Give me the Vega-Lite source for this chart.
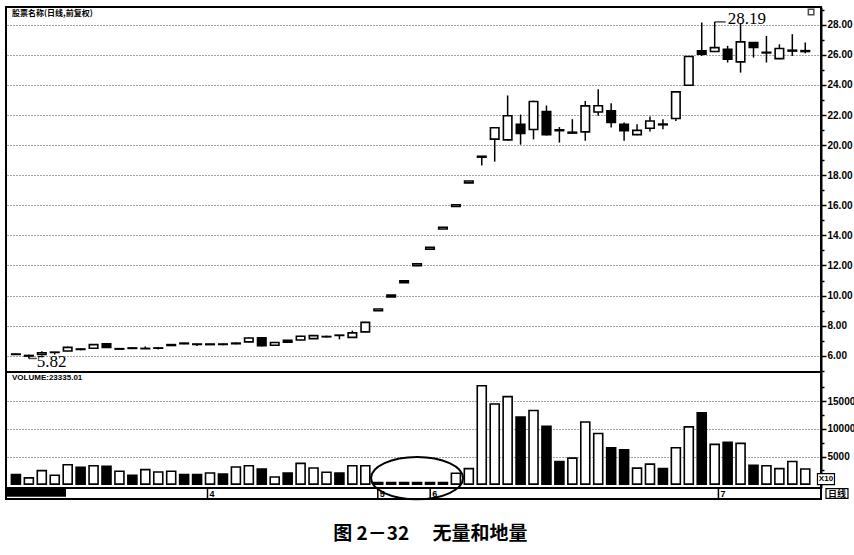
{
  "$schema": "https://vega.github.io/schema/vega-lite/v6.json",
  "background": "white",
  "padding": {"left": 5, "top": 3, "right": 0, "bottom": 0},
  "bounds": "flush",
  "config": {
    "view": {"stroke": "black", "strokeWidth": 2},
    "concat": {"spacing": 0},
    "font": "Liberation Sans",
    "axis": {"labelOverlap": false}
  },
  "title": {
    "text": "图 2－32　 无量和地量",
    "orient": "bottom",
    "anchor": "middle",
    "offset": 21,
    "fontSize": 19,
    "font": "Noto Sans CJK SC",
    "fontWeight": "bold",
    "color": "black"
  },
  "datasets": {
    "candles": [
      {"i": 0, "o": 6.12, "h": 6.15, "l": 6.05, "c": 6.08, "v": 1730, "d": "down"},
      {"i": 1, "o": 5.98, "h": 6.06, "l": 5.82, "c": 6.02, "v": 1130, "d": "up"},
      {"i": 2, "o": 6.08, "h": 6.3, "l": 6.02, "c": 6.2, "v": 2440, "d": "up"},
      {"i": 3, "o": 6.22, "h": 6.26, "l": 6.08, "c": 6.24, "v": 1600, "d": "up"},
      {"i": 4, "o": 6.32, "h": 6.6, "l": 6.3, "c": 6.56, "v": 3510, "d": "up"},
      {"i": 5, "o": 6.45, "h": 6.5, "l": 6.36, "c": 6.42, "v": 3040, "d": "down"},
      {"i": 6, "o": 6.5, "h": 6.78, "l": 6.48, "c": 6.74, "v": 3330, "d": "up"},
      {"i": 7, "o": 6.79, "h": 6.82, "l": 6.52, "c": 6.55, "v": 3210, "d": "down"},
      {"i": 8, "o": 6.44, "h": 6.52, "l": 6.4, "c": 6.47, "v": 2320, "d": "up"},
      {"i": 9, "o": 6.52, "h": 6.56, "l": 6.44, "c": 6.49, "v": 1600, "d": "down"},
      {"i": 10, "o": 6.47, "h": 6.62, "l": 6.46, "c": 6.49, "v": 2620, "d": "up"},
      {"i": 11, "o": 6.5, "h": 6.56, "l": 6.42, "c": 6.52, "v": 2200, "d": "up"},
      {"i": 12, "o": 6.68, "h": 6.77, "l": 6.66, "c": 6.74, "v": 2320, "d": "up"},
      {"i": 13, "o": 6.84, "h": 6.86, "l": 6.76, "c": 6.8, "v": 1730, "d": "down"},
      {"i": 14, "o": 6.78, "h": 6.8, "l": 6.64, "c": 6.75, "v": 1730, "d": "down"},
      {"i": 15, "o": 6.74, "h": 6.8, "l": 6.72, "c": 6.78, "v": 2020, "d": "up"},
      {"i": 16, "o": 6.78, "h": 6.82, "l": 6.7, "c": 6.75, "v": 1840, "d": "down"},
      {"i": 17, "o": 6.8, "h": 6.88, "l": 6.76, "c": 6.84, "v": 3090, "d": "up"},
      {"i": 18, "o": 6.92, "h": 7.22, "l": 6.9, "c": 7.18, "v": 3340, "d": "up"},
      {"i": 19, "o": 7.2, "h": 7.22, "l": 6.62, "c": 6.66, "v": 2740, "d": "down"},
      {"i": 20, "o": 6.7, "h": 6.92, "l": 6.68, "c": 6.88, "v": 1300, "d": "up"},
      {"i": 21, "o": 7.02, "h": 7.05, "l": 6.86, "c": 6.9, "v": 2020, "d": "down"},
      {"i": 22, "o": 7.05, "h": 7.33, "l": 7.02, "c": 7.3, "v": 3750, "d": "up"},
      {"i": 23, "o": 7.14, "h": 7.38, "l": 7.12, "c": 7.34, "v": 2920, "d": "up"},
      {"i": 24, "o": 7.26, "h": 7.34, "l": 7.2, "c": 7.28, "v": 2140, "d": "up"},
      {"i": 25, "o": 7.37, "h": 7.38, "l": 7.09, "c": 7.35, "v": 2020, "d": "down"},
      {"i": 26, "o": 7.22, "h": 7.67, "l": 7.2, "c": 7.52, "v": 3340, "d": "up"},
      {"i": 27, "o": 7.59, "h": 8.26, "l": 7.56, "c": 8.22, "v": 3340, "d": "up"},
      {"i": 28, "o": 8.99, "h": 9.11, "l": 8.99, "c": 9.11, "v": 300, "d": "up"},
      {"i": 29, "o": 9.91, "h": 10.03, "l": 9.91, "c": 10.03, "v": 300, "d": "up"},
      {"i": 30, "o": 10.86, "h": 10.98, "l": 10.86, "c": 10.98, "v": 300, "d": "up"},
      {"i": 31, "o": 11.99, "h": 12.11, "l": 11.99, "c": 12.11, "v": 300, "d": "up"},
      {"i": 32, "o": 13.09, "h": 13.21, "l": 13.09, "c": 13.21, "v": 300, "d": "up"},
      {"i": 33, "o": 14.42, "h": 14.54, "l": 14.42, "c": 14.54, "v": 300, "d": "up"},
      {"i": 34, "o": 15.92, "h": 16.04, "l": 15.92, "c": 16.04, "v": 1960, "d": "up"},
      {"i": 35, "o": 17.49, "h": 17.61, "l": 17.49, "c": 17.61, "v": 2800, "d": "up"},
      {"i": 36, "o": 19.2, "h": 19.26, "l": 18.65, "c": 19.26, "v": 17800, "d": "up"},
      {"i": 37, "o": 20.4, "h": 21.2, "l": 18.9, "c": 21.15, "v": 14500, "d": "up"},
      {"i": 38, "o": 20.35, "h": 23.3, "l": 20.3, "c": 21.95, "v": 15840, "d": "up"},
      {"i": 39, "o": 21.38, "h": 22.03, "l": 20.03, "c": 20.78, "v": 12140, "d": "down"},
      {"i": 40, "o": 21.04, "h": 22.95, "l": 20.38, "c": 22.9, "v": 13340, "d": "up"},
      {"i": 41, "o": 22.23, "h": 22.63, "l": 20.64, "c": 20.7, "v": 10480, "d": "down"},
      {"i": 42, "o": 21.02, "h": 21.2, "l": 20.17, "c": 20.96, "v": 4100, "d": "down"},
      {"i": 43, "o": 20.8, "h": 21.72, "l": 20.75, "c": 20.86, "v": 4700, "d": "up"},
      {"i": 44, "o": 20.88, "h": 22.94, "l": 20.29, "c": 22.61, "v": 11250, "d": "up"},
      {"i": 45, "o": 22.2, "h": 23.71, "l": 21.95, "c": 22.62, "v": 9160, "d": "up"},
      {"i": 46, "o": 22.28, "h": 22.78, "l": 21.17, "c": 21.5, "v": 6600, "d": "down"},
      {"i": 47, "o": 21.39, "h": 21.5, "l": 20.29, "c": 20.95, "v": 6200, "d": "down"},
      {"i": 48, "o": 20.7, "h": 21.39, "l": 20.66, "c": 20.98, "v": 2900, "d": "up"},
      {"i": 49, "o": 21.12, "h": 21.9, "l": 20.9, "c": 21.6, "v": 3630, "d": "up"},
      {"i": 50, "o": 21.4, "h": 21.72, "l": 21.06, "c": 21.35, "v": 2800, "d": "down"},
      {"i": 51, "o": 21.77, "h": 23.56, "l": 21.61, "c": 23.54, "v": 6600, "d": "up"},
      {"i": 52, "o": 23.98, "h": 25.92, "l": 23.95, "c": 25.89, "v": 10360, "d": "up"},
      {"i": 53, "o": 26.27, "h": 28.15, "l": 25.93, "c": 26.05, "v": 12900, "d": "down"},
      {"i": 54, "o": 26.22, "h": 28.19, "l": 26.18, "c": 26.48, "v": 7200, "d": "up"},
      {"i": 55, "o": 26.37, "h": 26.6, "l": 25.49, "c": 25.71, "v": 7560, "d": "down"},
      {"i": 56, "o": 25.53, "h": 28.1, "l": 24.82, "c": 26.86, "v": 7380, "d": "up"},
      {"i": 57, "o": 26.82, "h": 26.85, "l": 25.82, "c": 26.49, "v": 3390, "d": "down"},
      {"i": 58, "o": 26.13, "h": 27.26, "l": 25.49, "c": 26.17, "v": 3330, "d": "up"},
      {"i": 59, "o": 25.75, "h": 26.7, "l": 25.71, "c": 26.42, "v": 2800, "d": "up"},
      {"i": 60, "o": 26.25, "h": 27.37, "l": 25.93, "c": 26.31, "v": 4100, "d": "up"},
      {"i": 61, "o": 26.22, "h": 26.82, "l": 26.1, "c": 26.28, "v": 2740, "d": "up"}
    ],
    "months": [
      {"i": 15, "m": "4"},
      {"i": 28, "m": "5"},
      {"i": 32, "m": "6"},
      {"i": 54, "m": "7"}
    ]
  },
  "vconcat": [
    {
      "width": 815,
      "height": 365,
      "layer": [
        {
          "data": {"name": "candles"},
          "mark": {"type": "rule", "color": "black", "strokeWidth": 1.5},
          "encoding": {
            "x": {"field": "i", "type": "quantitative", "scale": {"domain": [-0.38, 61.83], "nice": false, "zero": false}, "axis": null},
            "y": {
              "field": "l", "type": "quantitative",
              "scale": {"domain": [4.92, 29.18], "nice": false, "zero": false},
              "axis": {
                "orient": "right", "title": null,
                "values": [5, 6, 7, 8, 9, 10, 11, 12, 13, 14, 15, 16, 17, 18, 19, 20, 21, 22, 23, 24, 25, 26, 27, 28, 29],
                "tickCount": 100,
                "labelExpr": "datum.value % 2 === 0 ? format(datum.value, '.2f') : ''",
                "grid": true, "gridColor": "#333333", "gridDash": [1, 2], "gridWidth": 1,
                "gridOpacity": {"condition": {"test": "datum.value % 2 === 0", "value": 0.9}, "value": 0},
                "tickSize": {"condition": {"test": "datum.value % 2 === 0", "value": 5}, "value": 3},
                "tickColor": "black", "tickWidth": 1.5,
                "domainColor": "black", "domainWidth": 2,
                "labelFont": "Liberation Sans", "labelFontWeight": "bold", "labelFontSize": 10,
                "labelColor": "black", "labelPadding": 1, "labelFlush": false, "labelOverlap": false
              }
            },
            "y2": {"field": "h"}
          }
        },
        {
          "data": {"name": "candles"},
          "mark": {"type": "bar", "width": 8.5, "stroke": "black", "strokeWidth": 1.6},
          "encoding": {
            "x": {"field": "i", "type": "quantitative", "scale": {"domain": [-0.38, 61.83], "nice": false, "zero": false}, "axis": null},
            "y": {"field": "o", "type": "quantitative", "scale": {"domain": [4.92, 29.18], "nice": false, "zero": false}, "title": null},
            "y2": {"field": "c"},
            "fill": {"field": "d", "type": "nominal", "scale": {"domain": ["up", "down"], "range": ["white", "black"]}, "legend": null}
          }
        },
        {
          "data": {"values": [{"i": 54, "p": 28.19, "t": "28.19"}]},
          "mark": {"type": "text", "align": "left", "baseline": "alphabetic", "dx": 13, "dy": 2, "font": "Liberation Serif", "fontSize": 17, "color": "black"},
          "encoding": {
            "x": {"field": "i", "type": "quantitative", "scale": {"domain": [-0.38, 61.83], "nice": false, "zero": false}, "axis": null},
            "y": {"field": "p", "type": "quantitative", "scale": {"domain": [4.92, 29.18], "nice": false, "zero": false}, "title": null},
            "text": {"field": "t"}
          }
        },
        {
          "data": {"values": [{"i": 54, "p": 28.19}]},
          "mark": {"type": "tick", "orient": "horizontal", "size": 11, "thickness": 1.5, "xOffset": 5.5, "color": "black"},
          "encoding": {
            "x": {"field": "i", "type": "quantitative", "scale": {"domain": [-0.38, 61.83], "nice": false, "zero": false}, "axis": null},
            "y": {"field": "p", "type": "quantitative", "scale": {"domain": [4.92, 29.18], "nice": false, "zero": false}, "title": null}
          }
        },
        {
          "data": {"values": [{"i": 1, "p": 5.82, "t": "5.82"}]},
          "mark": {"type": "text", "align": "left", "baseline": "alphabetic", "dx": 8, "dy": 9, "font": "Liberation Serif", "fontSize": 17, "color": "black"},
          "encoding": {
            "x": {"field": "i", "type": "quantitative", "scale": {"domain": [-0.38, 61.83], "nice": false, "zero": false}, "axis": null},
            "y": {"field": "p", "type": "quantitative", "scale": {"domain": [4.92, 29.18], "nice": false, "zero": false}, "title": null},
            "text": {"field": "t"}
          }
        },
        {
          "data": {"values": [{"i": 1, "p": 5.82}]},
          "mark": {"type": "tick", "orient": "horizontal", "size": 8, "thickness": 1.5, "xOffset": 4, "color": "black"},
          "encoding": {
            "x": {"field": "i", "type": "quantitative", "scale": {"domain": [-0.38, 61.83], "nice": false, "zero": false}, "axis": null},
            "y": {"field": "p", "type": "quantitative", "scale": {"domain": [4.92, 29.18], "nice": false, "zero": false}, "title": null}
          }
        },
        {
          "data": {"values": [{}]},
          "mark": {"type": "text", "text": "股票名称(日线,前复权)", "align": "left", "baseline": "middle", "font": "Noto Sans CJK SC", "fontWeight": "bold", "fontSize": 8, "color": "black"},
          "encoding": {
            "x": {"datum": -0.3, "type": "quantitative", "scale": {"domain": [-0.38, 61.83], "nice": false, "zero": false}, "axis": null},
            "y": {"datum": 28.7, "type": "quantitative", "scale": {"domain": [4.92, 29.18], "nice": false, "zero": false}, "title": null}
          }
        },
        {
          "data": {"values": [{}]},
          "mark": {"type": "point", "shape": "square", "size": 30, "filled": false, "stroke": "black", "strokeWidth": 1.5},
          "encoding": {
            "x": {"datum": 61.45, "type": "quantitative", "scale": {"domain": [-0.38, 61.83], "nice": false, "zero": false}, "axis": null},
            "y": {"datum": 28.85, "type": "quantitative", "scale": {"domain": [4.92, 29.18], "nice": false, "zero": false}, "title": null}
          }
        }
      ]
    },
    {
      "width": 815,
      "height": 116,
      "layer": [
        {
          "data": {"name": "candles"},
          "mark": {"type": "bar", "width": 9, "stroke": "black", "strokeWidth": 1.6},
          "encoding": {
            "x": {"field": "i", "type": "quantitative", "scale": {"domain": [-0.38, 61.83], "nice": false, "zero": false}, "axis": null},
            "y": {
              "field": "v", "type": "quantitative",
              "scale": {"domain": [-700, 20300], "nice": false, "zero": false},
              "axis": {
                "orient": "right", "title": null,
                "values": [2500, 5000, 7500, 10000, 12500, 15000, 17500],
                "tickCount": 100,
                "labelExpr": "datum.value % 5000 === 0 ? '' + datum.value : ''",
                "grid": true, "gridColor": "#333333", "gridDash": [1, 2], "gridWidth": 1,
                "gridOpacity": {"condition": {"test": "datum.value % 5000 === 0", "value": 0.9}, "value": 0},
                "tickSize": {"condition": {"test": "datum.value % 5000 === 0", "value": 5}, "value": 3},
                "tickColor": "black", "tickWidth": 1.5,
                "domainColor": "black", "domainWidth": 2,
                "labelFont": "Liberation Sans", "labelFontWeight": "bold", "labelFontSize": 10,
                "labelColor": "black", "labelPadding": 1, "labelFlush": false, "labelOverlap": false
              }
            },
            "y2": {"datum": 0},
            "fill": {"field": "d", "type": "nominal", "scale": {"domain": ["up", "down"], "range": ["white", "black"]}, "legend": null}
          }
        },
        {
          "data": {"values": [{}]},
          "mark": {"type": "text", "text": "VOLUME:23335.01", "align": "left", "baseline": "middle", "font": "Liberation Sans", "fontWeight": "bold", "fontSize": 8, "color": "black"},
          "encoding": {
            "x": {"datum": -0.3, "type": "quantitative", "scale": {"domain": [-0.38, 61.83], "nice": false, "zero": false}, "axis": null},
            "y": {"datum": 19300, "type": "quantitative", "scale": {"domain": [-700, 20300], "nice": false, "zero": false}, "title": null}
          }
        },
        {
          "data": {"values": [{}]},
          "mark": {"type": "point", "shape": "M -1 0 A 1 0.46 0 1 1 1 0 A 1 0.46 0 1 1 -1 0 Z", "size": 8464, "filled": false, "stroke": "black", "strokeWidth": 2, "opacity": 1},
          "encoding": {
            "x": {"datum": 31.0, "type": "quantitative", "scale": {"domain": [-0.38, 61.83], "nice": false, "zero": false}, "axis": null},
            "y": {"datum": 1090, "type": "quantitative", "scale": {"domain": [-700, 20300], "nice": false, "zero": false}, "title": null}
          }
        },
        {
          "data": {"values": [{}]},
          "mark": {"type": "point", "shape": "M -1 -0.65 L 1 -0.65 L 1 0.65 L -1 0.65 Z", "size": 289, "filled": true, "fill": "white", "stroke": "black", "strokeWidth": 1.2, "opacity": 1},
          "encoding": {
            "x": {"datum": 62.6, "type": "quantitative", "scale": {"domain": [-0.38, 61.83], "nice": false, "zero": false}, "axis": null},
            "y": {"datum": 900, "type": "quantitative", "scale": {"domain": [-700, 20300], "nice": false, "zero": false}, "title": null}
          }
        },
        {
          "data": {"values": [{}]},
          "mark": {"type": "text", "text": "X10", "align": "center", "baseline": "middle", "font": "Liberation Sans", "fontWeight": "bold", "fontSize": 8, "color": "black"},
          "encoding": {
            "x": {"datum": 62.6, "type": "quantitative", "scale": {"domain": [-0.38, 61.83], "nice": false, "zero": false}, "axis": null},
            "y": {"datum": 900, "type": "quantitative", "scale": {"domain": [-700, 20300], "nice": false, "zero": false}, "title": null}
          }
        }
      ]
    },
    {
      "width": 815,
      "height": 11,
      "layer": [
        {
          "data": {"values": [{}]},
          "mark": {"type": "rect", "color": "black"},
          "encoding": {
            "x": {"datum": -0.38, "type": "quantitative", "scale": {"domain": [-0.38, 61.83], "nice": false, "zero": false}, "axis": null},
            "x2": {"datum": 4.2},
            "y": {"datum": 0.2, "type": "quantitative", "scale": {"domain": [0, 1], "nice": false, "zero": false}, "axis": null},
            "y2": {"datum": 1}
          }
        },
        {
          "data": {"name": "months"},
          "mark": {"type": "rule", "color": "black", "strokeWidth": 1.5},
          "encoding": {
            "x": {"field": "i", "type": "quantitative", "scale": {"domain": [-0.38, 61.83], "nice": false, "zero": false}, "axis": null},
            "y": {"datum": 0, "type": "quantitative", "scale": {"domain": [0, 1], "nice": false, "zero": false}, "axis": null},
            "y2": {"datum": 1}
          }
        },
        {
          "data": {"name": "months"},
          "mark": {"type": "text", "align": "left", "baseline": "middle", "dx": 2, "font": "Liberation Sans", "fontWeight": "bold", "fontSize": 9, "color": "black"},
          "encoding": {
            "x": {"field": "i", "type": "quantitative", "scale": {"domain": [-0.38, 61.83], "nice": false, "zero": false}, "axis": null},
            "y": {"datum": 0.5, "type": "quantitative", "scale": {"domain": [0, 1], "nice": false, "zero": false}, "axis": null},
            "text": {"field": "m"}
          }
        },
        {
          "data": {"values": [{}]},
          "mark": {"type": "point", "shape": "M -1 -0.45 L 1 -0.45 L 1 0.45 L -1 0.45 Z", "size": 484, "filled": true, "fill": "white", "stroke": "black", "strokeWidth": 1.2, "opacity": 1},
          "encoding": {
            "x": {"datum": 63.05, "type": "quantitative", "scale": {"domain": [-0.38, 61.83], "nice": false, "zero": false}, "axis": null},
            "y": {"datum": 0.5, "type": "quantitative", "scale": {"domain": [0, 1], "nice": false, "zero": false}, "axis": null}
          }
        },
        {
          "data": {"values": [{}]},
          "mark": {"type": "text", "text": "日线", "align": "center", "baseline": "middle", "font": "Noto Sans CJK SC", "fontWeight": "bold", "fontSize": 9, "color": "black"},
          "encoding": {
            "x": {"datum": 63.05, "type": "quantitative", "scale": {"domain": [-0.38, 61.83], "nice": false, "zero": false}, "axis": null},
            "y": {"datum": 0.5, "type": "quantitative", "scale": {"domain": [0, 1], "nice": false, "zero": false}, "axis": null}
          }
        }
      ]
    }
  ]
}
